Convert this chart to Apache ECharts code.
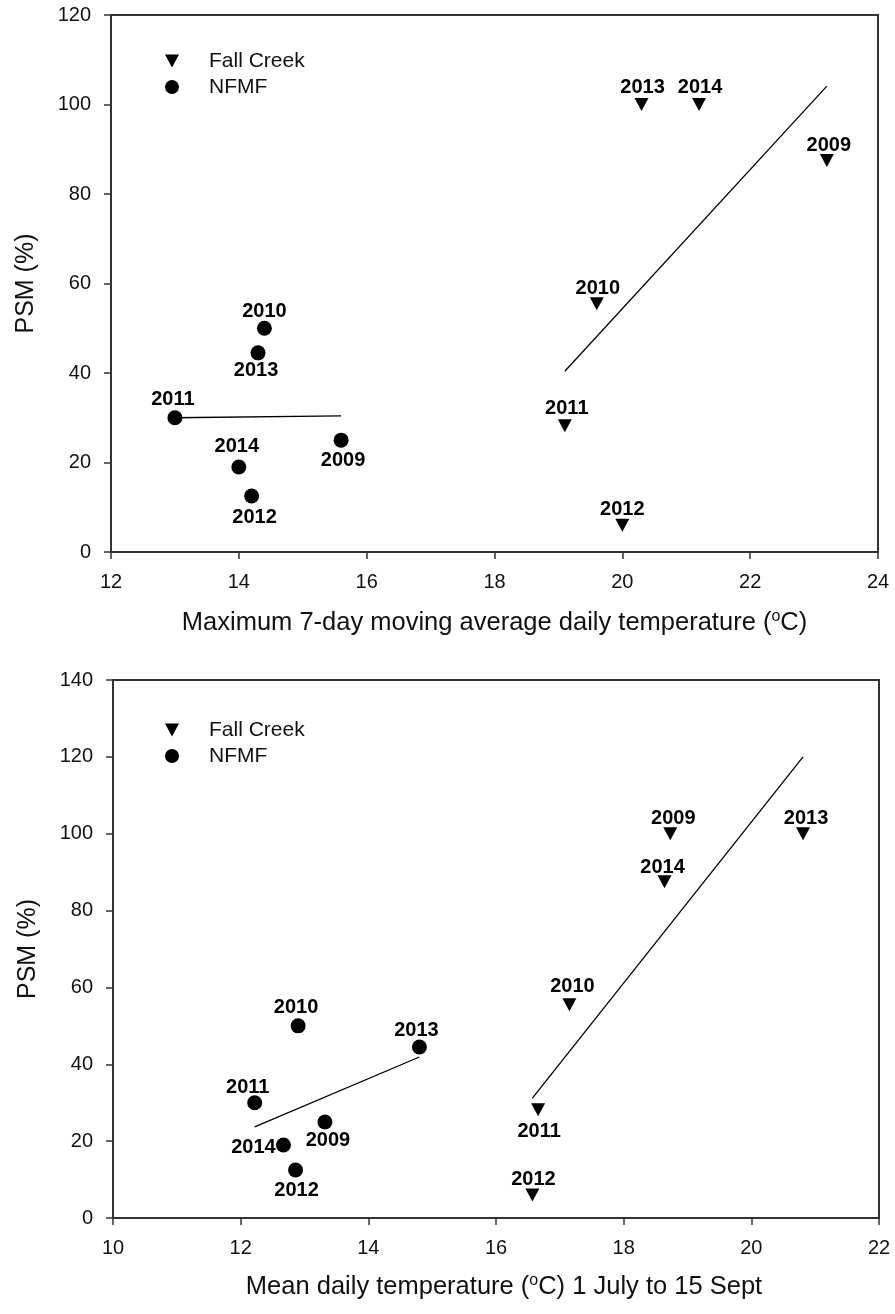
<!DOCTYPE html>
<html>
<head>
<meta charset="utf-8">
<script src="https://cdn.jsdelivr.net/npm/echarts@6/dist/echarts.min.js"></script>
<style>
  html, body { margin: 0; padding: 0; background: #fff; }
  #chart { width: 895px; height: 1314px; }
</style>
</head>
<body>
<div id="chart"></div>
<script>
// Sampling years (point labels)
const years = ['2009', '2010', '2011', '2012', '2013', '2014'];

// PSM (%) per year
const fallCreekPSMUpper = [87.5, 55.5, 28.2, 6.0, 100, 100];
const fallCreekPSMLower = [100, 55.5, 28.2, 6.0, 100, 87.5];
const nfmfPSM = [25, 50, 30, 12.5, 44.5, 19];

// Upper panel: maximum 7-day moving average daily temperature (°C)
const fallCreekMax7 = [23.2, 19.6, 19.1, 20.0, 20.3, 21.2];
const nfmfMax7 = [15.6, 14.4, 13.0, 14.2, 14.3, 14.0];

// Lower panel: mean daily temperature, 1 July to 15 Sept (°C)
const fallCreekMean = [18.73, 17.15, 16.66, 16.57, 20.81, 18.64];
const nfmfMean = [13.32, 12.9, 12.22, 12.86, 14.8, 12.67];

// Fitted regression lines, end points [x, y]
const fitFallCreekMax7 = [[19.1, 40.4], [23.2, 104.1]];
const fitNfmfMax7 = [[13.0, 30.0], [15.6, 30.4]];
const fitFallCreekMean = [[16.57, 31.2], [20.81, 120.0]];
const fitNfmfMean = [[12.22, 23.7], [14.8, 41.9]];

// Axis tick values
const xTicksUpper = [12, 14, 16, 18, 20, 22, 24];
const yTicksUpper = [0, 20, 40, 60, 80, 100, 120];
const xTicksLower = [10, 12, 14, 16, 18, 20, 22];
const yTicksLower = [0, 20, 40, 60, 80, 100, 120, 140];

// Year-label placement relative to each marker centre, [dx, dy] in px
const labelShiftUpper = {
  fall: [[2, -15], [1, -15], [2, -17], [0, -16], [1, -17], [1, -17]],
  nfmf: [[2, 20], [0, -17], [-2, -18], [3, 21], [-2, 18], [-2, -20]]
};
const labelShiftLower = {
  fall: [[3, -15], [3, -18], [1, 22], [1, -15], [3, -15], [-2, -14]],
  nfmf: [[3, 19], [-2, -18], [-7, -15], [1, 21], [-3, -17], [-30, 2]]
};

const FONT = '"Liberation Sans", Arial, Helvetica, sans-serif';
const AXIS_COLOR = '#333';
const TRIANGLE = 'path://M0,0L12,0L6,11Z';

function points(xs, ys, shifts) {
  return years.map((yr, i) => ({
    name: yr,
    value: [xs[i], ys[i]],
    label: { offset: shifts[i] }
  }));
}

const yearLabel = {
  show: true,
  position: 'inside',
  formatter: '{b}',
  fontFamily: FONT,
  fontSize: 20,
  fontWeight: 'bold',
  color: '#000'
};

function scatter(name, symbol, size, data, idx) {
  return {
    type: 'scatter',
    name: name,
    xAxisIndex: idx,
    yAxisIndex: idx,
    symbol: symbol,
    symbolSize: size,
    itemStyle: { color: '#000', opacity: 1 },
    label: yearLabel,
    data: data,
    z: 3
  };
}

function fitLine(name, pts, idx) {
  return {
    type: 'line',
    name: name,
    xAxisIndex: idx,
    yAxisIndex: idx,
    symbol: 'none',
    silent: true,
    lineStyle: { color: '#000', width: 1.3 },
    data: pts,
    z: 2
  };
}

function xAxis(ticks, idx, title, gap, shiftRight) {
  return {
    type: 'value',
    gridIndex: idx,
    min: ticks[0],
    max: ticks[ticks.length - 1],
    interval: ticks[1] - ticks[0],
    splitLine: { show: false },
    axisLine: { show: true, onZero: false, lineStyle: { color: AXIS_COLOR, width: 2 } },
    axisTick: { show: true, inside: false, length: 7, lineStyle: { color: AXIS_COLOR, width: 1.5 } },
    axisLabel: { margin: 20, fontFamily: FONT, fontSize: 20, color: '#111' },
    name: title,
    nameLocation: 'middle',
    nameGap: gap,
    nameTextStyle: {
      fontFamily: FONT, fontSize: 25.5, color: '#111', lineHeight: 27,
      padding: [0, 0, 0, shiftRight],
      rich: { sup: { fontFamily: FONT, fontSize: 16, color: '#111', lineHeight: 27, padding: [0, 0, 12, 0] } }
    }
  };
}

function yAxis(ticks, idx) {
  return {
    type: 'value',
    gridIndex: idx,
    min: ticks[0],
    max: ticks[ticks.length - 1],
    interval: ticks[1] - ticks[0],
    splitLine: { show: false },
    axisLine: { show: true, onZero: false, lineStyle: { color: AXIS_COLOR, width: 2 } },
    axisTick: { show: true, inside: false, length: 7, lineStyle: { color: AXIS_COLOR, width: 1.5 } },
    axisLabel: { margin: 20, fontFamily: FONT, fontSize: 20, color: '#111' },
    name: 'PSM (%)',
    nameLocation: 'middle',
    nameGap: 72,
    nameTextStyle: { fontFamily: FONT, fontSize: 25, color: '#111' }
  };
}

function legend(top) {
  return {
    orient: 'vertical',
    left: 165,
    top: top,
    padding: 0,
    itemGap: 0,
    itemWidth: 14,
    itemHeight: 14,
    selectedMode: false,
    textStyle: { fontFamily: FONT, fontSize: 21, color: '#111', lineHeight: 26, padding: [0, 0, 0, 25] },
    data: [
      { name: 'Fall Creek', icon: TRIANGLE },
      { name: 'NFMF', icon: 'circle' }
    ]
  };
}

const chart = echarts.init(document.getElementById('chart'), null, { renderer: 'canvas' });

chart.setOption({
  animation: false,
  backgroundColor: '#fff',
  grid: [
    { left: 111, top: 15, width: 767, height: 537, show: true, borderColor: AXIS_COLOR, borderWidth: 2, containLabel: false },
    { left: 113, top: 680, width: 766, height: 538, show: true, borderColor: AXIS_COLOR, borderWidth: 2, containLabel: false }
  ],
  legend: [legend(48), legend(717)],
  xAxis: [
    xAxis(xTicksUpper, 0, 'Maximum 7-day moving average daily temperature ({sup|o}C)', 57, 0),
    xAxis(xTicksLower, 1, 'Mean daily temperature ({sup|o}C) 1 July to 15 Sept', 55, 16)
  ],
  yAxis: [yAxis(yTicksUpper, 0), yAxis(yTicksLower, 1)],
  series: [
    fitLine('Fall Creek fit', fitFallCreekMax7, 0),
    fitLine('NFMF fit', fitNfmfMax7, 0),
    scatter('Fall Creek', TRIANGLE, [14, 13], points(fallCreekMax7, fallCreekPSMUpper, labelShiftUpper.fall), 0),
    scatter('NFMF', 'circle', 15, points(nfmfMax7, nfmfPSM, labelShiftUpper.nfmf), 0),
    fitLine('Fall Creek fit', fitFallCreekMean, 1),
    fitLine('NFMF fit', fitNfmfMean, 1),
    scatter('Fall Creek', TRIANGLE, [14, 13], points(fallCreekMean, fallCreekPSMLower, labelShiftLower.fall), 1),
    scatter('NFMF', 'circle', 15, points(nfmfMean, nfmfPSM, labelShiftLower.nfmf), 1)
  ]
});
</script>
</body>
</html>
